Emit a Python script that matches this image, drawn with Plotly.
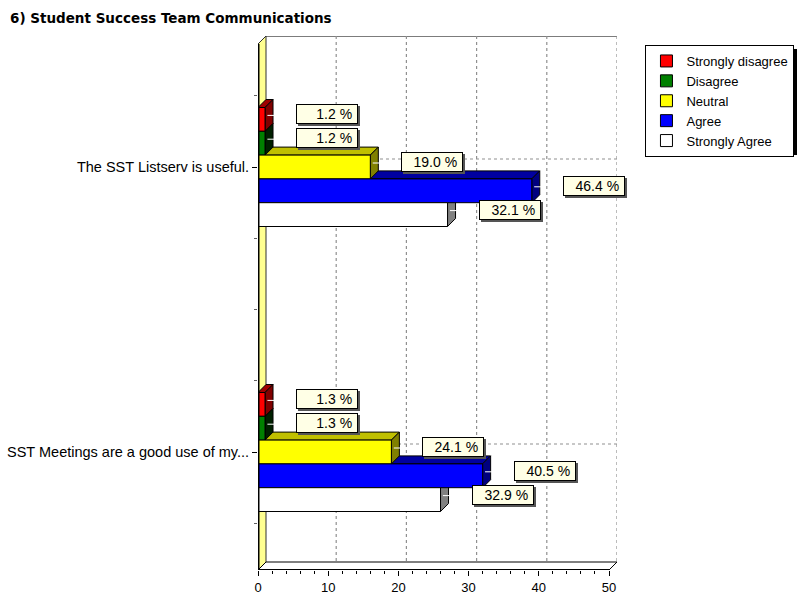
import plotly.graph_objects as go

# ---- data ----
title_text = "6) Student Success Team Communications"
categories = ["The SST Listserv is useful.", "SST Meetings are a good use of my..."]
series_names = ["Strongly disagree", "Disagree", "Neutral", "Agree", "Strongly Agree"]
counts = [
    [1, 1],    # Strongly disagree
    [1, 1],    # Disagree
    [16, 19],  # Neutral
    [39, 32],  # Agree
    [27, 26],  # Strongly Agree
]
percents = [
    [1.2, 1.3],
    [1.2, 1.3],
    [19.0, 24.1],
    [46.4, 40.5],
    [32.1, 32.9],
]
x_ticks = [0, 10, 20, 30, 40, 50]

# ---- styling ----
front_colors = ["#FF0000", "#008000", "#FFFF00", "#0000FF", "#FFFFFF"]
top_colors = ["#A00000", "#004000", "#C0C000", "#0000A0", "#C0C0C0"]
side_colors = ["#800000", "#002000", "#808000", "#000080", "#808080"]

W, H = 797, 597
L, R, T, B = 258, 797 - 617.5, 36, 27
px_x = 351.0 / 50.0           # pixels per x unit
px_y = 285.0                  # pixels per category unit
depth = 8.0                   # 3D depth in pixels
dx = depth / px_x
dy = depth / px_y
xmax = 50.0
y_top_back = -(167 - T) / px_y
y_bot_front = 1 + (570 - 452) / px_y
y_top_front = y_top_back + dy
y_bot_back = y_bot_front - dy
bargap = 1 - 119.0 / px_y
nser = len(series_names)
bw = (1 - bargap) / nser

font_main = "Liberation Sans, Arial, sans-serif"
grid_dash = "3px,3px"

fig = go.Figure()
cat_pos = list(range(len(categories)))
for i, name in enumerate(series_names):
    fig.add_trace(go.Bar(
        y=cat_pos, x=counts[i], orientation="h", name=name,
        marker=dict(color=front_colors[i], line=dict(color="black", width=1)),
        hoverinfo="x+name",
    ))

shapes = []
# back wall
shapes.append(dict(type="rect", xref="x", yref="y", x0=dx, x1=xmax + dx,
                   y0=y_top_back, y1=y_bot_back, fillcolor="white",
                   line=dict(width=0), layer="below"))
shapes.append(dict(type="line", xref="x", yref="y", x0=dx, x1=xmax + dx,
                   y0=y_top_back, y1=y_top_back,
                   line=dict(color="#505050", width=1.5), layer="below"))
# vertical gridlines on back wall
for t in x_ticks[1:]:
    shapes.append(dict(type="line", xref="x", yref="y", x0=t + dx, x1=t + dx,
                       y0=y_top_back, y1=y_bot_back,
                       line=dict(color="#909090", width=1.2, dash=grid_dash), layer="below"))
# horizontal gridlines on back wall
for c in cat_pos:
    shapes.append(dict(type="line", xref="x", yref="y", x0=dx, x1=xmax + dx,
                       y0=c - dy, y1=c - dy,
                       line=dict(color="#909090", width=1.2, dash=grid_dash), layer="below"))
# left wall
shapes.append(dict(type="path", xref="x", yref="y",
                   path=f"M 0,{y_top_front} L {dx},{y_top_back} L {dx},{y_bot_back} L 0,{y_bot_front} Z",
                   fillcolor="#FFFF90", line=dict(color="#303030", width=1), layer="below"))
# floor
shapes.append(dict(type="path", xref="x", yref="y",
                   path=f"M 0,{y_bot_front} L {xmax},{y_bot_front} L {xmax + dx},{y_bot_back} L {dx},{y_bot_back} Z",
                   fillcolor="white", line=dict(color="black", width=1), layer="below"))

# 3D faces of bars (bottom series first so upper ones overlay)
for i in reversed(range(nser)):
    for c in cat_pos:
        v = counts[i][c]
        yc = c - (1 - bargap) / 2 + bw * (i + 0.5)
        yt, yb = yc - bw / 2, yc + bw / 2
        shapes.append(dict(type="path", xref="x", yref="y",
                           path=f"M 0,{yt} L {v},{yt} L {v + dx},{yt - dy} L {dx},{yt - dy} Z",
                           fillcolor=top_colors[i], line=dict(color="black", width=1), layer="below"))
        shapes.append(dict(type="path", xref="x", yref="y",
                           path=f"M {v},{yt} L {v + dx},{yt - dy} L {v + dx},{yb - dy} L {v},{yb} Z",
                           fillcolor=side_colors[i], line=dict(color="black", width=1), layer="below"))
        # small white connector tick on side face
        shapes.append(dict(type="line", xref="x", yref="y",
                           x0=v + dx * 0.3, x1=v + dx * 1.2, y0=yc - dy / 2, y1=yc - dy / 2,
                           line=dict(color="white", width=1), layer="below"))

# front axis lines
shapes.append(dict(type="line", xref="x", yref="y", x0=0, x1=0, y0=y_top_front, y1=y_bot_front,
                   line=dict(color="black", width=3), layer="above"))
shapes.append(dict(type="line", xref="x", yref="y", x0=0, x1=xmax, y0=y_bot_front, y1=y_bot_front,
                   line=dict(color="black", width=2), layer="above"))

# legend shadow
pw = W - L - R
ph = H - T - B
def px2paper_x(p):
    return (p - L) / pw
def px2paper_y(p):
    return 1 - (p - T) / ph
shapes.append(dict(type="rect", xref="paper", yref="paper",
                   x0=px2paper_x(650), x1=px2paper_x(798),
                   y0=px2paper_y(49), y1=px2paper_y(155),
                   fillcolor="black", line=dict(width=0), layer="below"))

annotations = []
# value labels (shadow then box)
for i in range(nser):
    for c in cat_pos:
        v = counts[i][c]
        yc = c - (1 - bargap) / 2 + bw * (i + 0.5)
        txt = f"{percents[i][c]:.1f} %&nbsp;"
        for shadow in (True, False):
            annotations.append(dict(
                x=v, y=yc, xref="x", yref="y",
                text="&nbsp;" if shadow else txt, showarrow=False,
                xanchor="left", yanchor="middle",
                xshift=31 + (2 if shadow else 0), yshift=5 - (2 if shadow else 0),
                width=58, height=16, align="right", borderpad=1,
                bgcolor="#555555" if shadow else "#FFFFE6",
                bordercolor="#555555" if shadow else "black", borderwidth=1,
                font=dict(family=font_main, size=14, color="black"),
            ))

fig.update_layout(
    width=W, height=H,
    margin=dict(l=L, r=R, t=T, b=B, pad=0, autoexpand=False),
    paper_bgcolor="white", plot_bgcolor="rgba(0,0,0,0)",
    barmode="group", bargap=bargap, bargroupgap=0,
    font=dict(family=font_main, size=14, color="black"),
    title=dict(text=f"<b>{title_text}</b>", x=10 / W, xanchor="left",
               y=1 - 18 / H, yanchor="middle", xref="container", yref="container",
               font=dict(family="DejaVu Sans, Verdana, sans-serif", size=13.5, color="black")),
    showlegend=True,
    legend=dict(x=px2paper_x(646), y=px2paper_y(45), xanchor="left", yanchor="top",
                bgcolor="white", bordercolor="black", borderwidth=1,
                font=dict(family=font_main, size=13), traceorder="normal",
                tracegroupgap=0, itemwidth=30),
    xaxis=dict(range=[0, xmax + dx], tickvals=x_ticks, showgrid=False, zeroline=False,
               showline=False, ticks="outside", ticklen=5, tickcolor="black",
               minor=dict(dtick=2, ticks="outside", ticklen=3, tickcolor="black"),
               tickfont=dict(family=font_main, size=13), automargin=False),
    yaxis=dict(range=[y_bot_front, y_top_back], tickvals=cat_pos, ticktext=categories,
               showgrid=False, zeroline=False, showline=False, ticks="outside",
               ticklen=5, tickcolor="black", tickfont=dict(family=font_main, size=14.5),
               minor=dict(tick0=0, dtick=0.25, ticks="outside", ticklen=3, tickcolor="#606060"),
               automargin=False),
    shapes=shapes, annotations=annotations,
)

fig.write_html("out.html")
